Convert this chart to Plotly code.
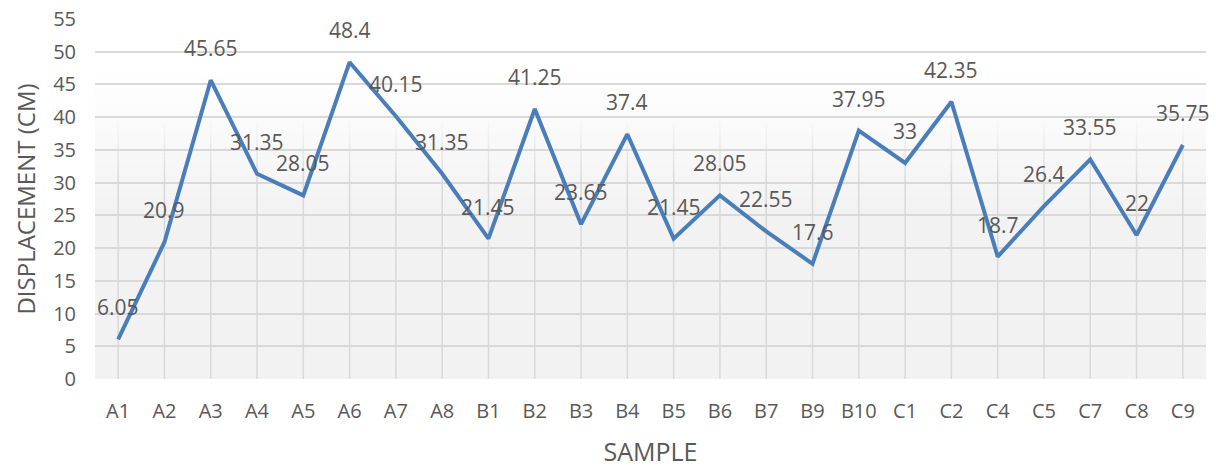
import plotly.graph_objects as go

# Samples and measured displacement (cm)
samples = ["A1", "A2", "A3", "A4", "A5", "A6", "A7", "A8",
           "B1", "B2", "B3", "B4", "B5", "B6", "B7", "B9", "B10",
           "C1", "C2", "C4", "C5", "C7", "C8", "C9"]
displacement = [6.05, 20.9, 45.65, 31.35, 28.05, 48.4, 40.15, 31.35,
                21.45, 41.25, 23.65, 37.4, 21.45, 28.05, 22.55, 17.6, 37.95,
                33, 42.35, 18.7, 26.4, 33.55, 22, 35.75]

y_ticks = list(range(0, 56, 5))

FONT = "Open Sans"
TEXT = "#595959"
LINE = "#4a7ebb"
GRID = (217, 217, 217)
Y_MAX = 55


def bg_rgb(v):
    # plot-area fill: white near the top, light grey lower down
    t = min(max((v - 25.0) / (47.0 - 25.0), 0.0), 1.0)
    c = 242 + t * (255 - 242)
    return (c, c, c)


def mix(a, b, t):
    return tuple(round(a[k] + (b[k] - a[k]) * t) for k in range(3))


def rgb(c):
    return "rgb(%d,%d,%d)" % tuple(round(x) for x in c)


shapes = []
# gradient background bands
step = 0.5
v = 0.0
while v < Y_MAX:
    shapes.append(dict(type="rect", xref="x domain", yref="y",
                       x0=0, x1=1, y0=v, y1=v + step + 0.05,
                       fillcolor=rgb(bg_rgb(v + step / 2)), line_width=0,
                       layer="below"))
    v += step

# vertical category gridlines that fade out towards the top
for i in range(len(samples)):
    shapes.append(dict(type="line", xref="x", yref="y", x0=i, x1=i, y0=0, y1=30,
                       line=dict(color=rgb(GRID), width=1.5), layer="below"))
    for s in range(30, 40):
        a = 1.0 - (s + 0.5 - 30) / 10.0
        col = mix(bg_rgb(s + 0.5), GRID, a)
        shapes.append(dict(type="line", xref="x", yref="y", x0=i, x1=i,
                           y0=s, y1=s + 1, line=dict(color=rgb(col), width=1.5),
                           layer="below"))

fig = go.Figure()
fig.add_trace(go.Scatter(
    x=samples, y=displacement, mode="lines",
    line=dict(color=LINE, width=4),
    hoverinfo="x+y", showlegend=False,
))

annotations = [
    dict(x=s, y=d, xref="x", yref="y", text=f"{d:g}", showarrow=False,
         yshift=32, font=dict(family=FONT, size=21, color=TEXT))
    for s, d in zip(samples, displacement)
]

fig.update_layout(
    width=1216, height=468,
    margin=dict(l=95, r=10, t=19, b=89),
    paper_bgcolor="white",
    plot_bgcolor="rgba(0,0,0,0)",
    font=dict(family=FONT, color=TEXT, size=20),
    shapes=shapes,
    annotations=annotations,
    xaxis=dict(
        type="category", categoryorder="array", categoryarray=samples,
        range=[-0.5, len(samples) - 0.5], automargin=False,
        showgrid=False, zeroline=False, showline=False, ticks="",
        tickfont=dict(family=FONT, size=20, color=TEXT),
        ticklabelstandoff=18,
        title=dict(text="SAMPLE", font=dict(family=FONT, size=25, color=TEXT),
                   standoff=28),
    ),
    yaxis=dict(
        range=[0, Y_MAX], tickvals=y_ticks, automargin=False,
        showgrid=True, gridcolor=rgb(GRID), gridwidth=2,
        zeroline=False, showline=False, ticks="",
        tickfont=dict(family=FONT, size=20, color=TEXT),
        ticklabelstandoff=18,
        title=dict(text="DISPLACEMENT (CM)",
                   font=dict(family=FONT, size=24, color=TEXT), standoff=10),
    ),
)

fig.write_html("out.html")
